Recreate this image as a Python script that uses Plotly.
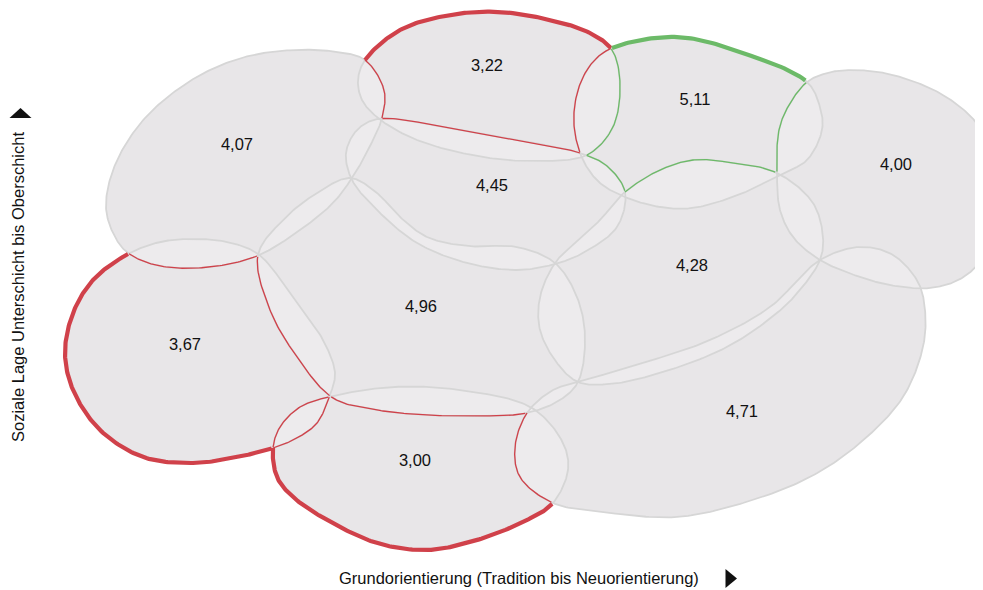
"""Milieu map: mean scores per social milieu, drawn as overlapping blobs."""

import numpy as np
import plotly.graph_objects as go

# mean score per milieu
VALUES = ["4,07", "3,22", "5,11", "4,00", "4,45", "4,96", "4,28", "3,67", "4,71", "3,00"]
LABEL_X = [237, 487, 695, 896, 492, 421, 692, 185, 742, 415]
LABEL_Y = [146, 67, 101, 166, 187, 308, 267, 346, 413, 462]
# 'low' = red, 'high' = green, None = plain
HIGHLIGHT = [None, "low", "high", None, None, None, None, "low", None, "low"]

# milieu outlines (chart units: x = Grundorientierung, y = Soziale Lage, downwards)
OUTLINE_4_07 = [(365, 60), (337, 52), (295, 50), (245, 57), (195, 78), (145, 118), (115, 165),
                (106, 207), (114, 235), (128, 253), (160, 266), (210, 267), (257, 256), (300, 230),
                (333, 203), (352, 178), (368, 150), (382, 118), (384, 90)]
OUTLINE_3_22 = [(365, 60), (400, 30), (450, 15), (500, 12), (550, 20), (590, 33), (612, 50),
                (620, 83), (613, 127), (587, 155), (537, 161), (483, 157), (417, 140), (378, 118),
                (362, 100), (358, 80)]
OUTLINE_5_11 = [(612, 48), (677, 37), (743, 53), (807, 82), (820, 107), (822, 130), (807, 160),
                (777, 176), (743, 193), (693, 208), (660, 207), (625, 197), (600, 183), (583, 160),
                (574, 125), (578, 90), (592, 63)]
OUTLINE_4_00 = [(807, 82), (827, 73), (853, 70), (893, 75), (943, 95), (978, 125), (995, 165),
                (997, 215), (985, 255), (962, 278), (930, 288), (890, 285), (860, 277), (820, 260),
                (793, 237), (780, 210), (777, 175), (779, 130), (789, 105)]
OUTLINE_4_45 = [(378, 119), (450, 128), (517, 140), (580, 153), (607, 166), (625, 192), (617, 227),
                (583, 253), (555, 264), (517, 270), (467, 263), (417, 243), (377, 210), (352, 180),
                (346, 153), (357, 130)]
OUTLINE_4_96 = [(258, 255), (283, 220), (317, 193), (350, 178), (377, 193), (400, 217), (427, 237),
                (467, 246), (517, 247), (555, 263), (577, 297), (585, 337), (578, 382), (560, 400),
                (527, 413), (477, 416), (427, 415), (377, 410), (333, 398), (297, 357), (270, 310)]
OUTLINE_4_28 = [(625, 192), (660, 170), (693, 160), (727, 162), (777, 173), (813, 203), (823, 237),
                (820, 260), (800, 290), (777, 313), (727, 347), (660, 373), (610, 384), (578, 382),
                (557, 363), (540, 330), (540, 297), (555, 263), (575, 243), (600, 220)]
OUTLINE_3_67 = [(128, 254), (160, 242), (193, 239), (227, 242), (258, 254), (293, 297), (323, 340),
                (335, 373), (330, 395), (317, 423), (297, 438), (273, 448), (237, 457), (193, 463),
                (143, 457), (100, 430), (73, 390), (65, 353), (73, 313), (93, 280)]
OUTLINE_4_71 = [(527, 413), (553, 390), (578, 382), (643, 363), (710, 340), (770, 307), (820, 260),
                (860, 247), (893, 255), (918, 282), (925, 310), (923, 347), (903, 397), (860, 443),
                (810, 477), (743, 503), (677, 517), (610, 513), (553, 503), (520, 477), (515, 447)]
OUTLINE_3_00 = [(273, 448), (280, 427), (300, 407), (333, 396), (393, 387), (460, 390), (532, 408),
                (563, 443), (568, 470), (553, 503), (527, 520), (477, 540), (427, 550), (377, 543),
                (327, 520), (293, 497), (277, 477)]

OUTLINES = [OUTLINE_4_07, OUTLINE_3_22, OUTLINE_5_11, OUTLINE_4_00, OUTLINE_4_45,
            OUTLINE_4_96, OUTLINE_4_28, OUTLINE_3_67, OUTLINE_4_71, OUTLINE_3_00]

X_TITLE = "Grundorientierung (Tradition bis Neuorientierung)"
Y_TITLE = "Soziale Lage Unterschicht bis Oberschicht"

# the page body has an 8px margin, so the figure starts at (8, 8)
PAGE_MARGIN = 8
W, H = 983, 590
BASE_FILL = "rgb(226,223,226)"
OVERLAP_FILL = "rgba(255,255,255,0.22)"
EDGE = "#d6d6d6"
HL_COLOR = {"low": "#d0414a", "high": "#6cba68"}
FONT = "Liberation Sans, Arial, sans-serif"
TEXT_SIZE = 16.5


def closed_curve(pts, n=24):
    """Centripetal Catmull-Rom through the control points, closed."""
    P = np.asarray(pts, float)
    m = len(P)
    u = np.linspace(0, 1, n, endpoint=False)[:, None]
    out = []
    for i in range(m):
        p0, p1, p2, p3 = P[(i - 1) % m], P[i], P[(i + 1) % m], P[(i + 2) % m]
        t0 = 0.0
        t1 = t0 + np.linalg.norm(p1 - p0) ** 0.5
        t2 = t1 + np.linalg.norm(p2 - p1) ** 0.5
        t3 = t2 + np.linalg.norm(p3 - p2) ** 0.5
        t = t1 + (t2 - t1) * u
        a1 = (t1 - t) / (t1 - t0) * p0 + (t - t0) / (t1 - t0) * p1
        a2 = (t2 - t) / (t2 - t1) * p1 + (t - t1) / (t2 - t1) * p2
        a3 = (t3 - t) / (t3 - t2) * p2 + (t - t2) / (t3 - t2) * p3
        b1 = (t2 - t) / (t2 - t0) * a1 + (t - t0) / (t2 - t0) * a2
        b2 = (t3 - t) / (t3 - t1) * a2 + (t - t1) / (t3 - t1) * a3
        out.append((t2 - t) / (t2 - t1) * b1 + (t - t1) / (t2 - t1) * b2)
    out = np.vstack(out)
    return np.vstack([out, out[:1]])


def inside(pts, poly):
    """Even-odd point-in-polygon test."""
    x, y = pts[:, 0][:, None], pts[:, 1][:, None]
    x1, y1 = poly[:-1, 0][None, :], poly[:-1, 1][None, :]
    x2, y2 = poly[1:, 0][None, :], poly[1:, 1][None, :]
    cond = (y1 > y) != (y2 > y)
    dy = np.where(y2 == y1, 1.0, y2 - y1)
    xint = x1 + (y - y1) * (x2 - x1) / dy
    return (cond & (x < xint)).sum(axis=1) % 2 == 1


def runs(curve, mask):
    """Split a closed curve into the runs where mask is True (None-separated)."""
    c, m = curve[:-1], mask[:-1]
    if m.all():
        return list(curve[:, 0]), list(curve[:, 1])
    if not m.any():
        return [], []
    start = int(np.argmin(m))
    c, m = np.roll(c, -start, axis=0), np.roll(m, -start)
    xs, ys = [], []
    prev = False
    for (px, py), keep in zip(c, m):
        if keep:
            xs.append(px)
            ys.append(py)
        elif prev:
            xs.append(None)
            ys.append(None)
        prev = keep
    return xs, ys


curves = [closed_curve(o) for o in OUTLINES]

fig = go.Figure()

# opaque base, then a faint white veil per milieu so that overlaps look lighter
for c in curves:
    fig.add_trace(go.Scatter(x=c[:, 0], y=c[:, 1], mode="lines", fill="toself",
                             fillcolor=BASE_FILL, line=dict(width=0), hoverinfo="skip"))
for c in curves:
    fig.add_trace(go.Scatter(x=c[:, 0], y=c[:, 1], mode="lines", fill="toself",
                             fillcolor=OVERLAP_FILL, line=dict(width=0), hoverinfo="skip"))
for c in curves:
    fig.add_trace(go.Scatter(x=c[:, 0], y=c[:, 1], mode="lines",
                             line=dict(color=EDGE, width=1.8), hoverinfo="skip"))

# highlighted milieus: outline of the part not covered by any other milieu
for h, kind in enumerate(HIGHLIGHT):
    if kind is None:
        continue
    color = HL_COLOR[kind]
    thin_x, thin_y = [], []
    for k, ck in enumerate(curves):
        if k == h:
            continue
        mask = inside(ck, curves[h])
        for j, cj in enumerate(curves):
            if j not in (h, k):
                mask &= ~inside(ck, cj)
        xs, ys = runs(ck, mask)
        thin_x += xs + [None]
        thin_y += ys + [None]
    fig.add_trace(go.Scatter(x=thin_x, y=thin_y, mode="lines",
                             line=dict(color=color, width=1.3), hoverinfo="skip"))

    mask = np.ones(len(curves[h]), bool)
    for j, cj in enumerate(curves):
        if j != h:
            mask &= ~inside(curves[h], cj)
    xs, ys = runs(curves[h], mask)
    fig.add_trace(go.Scatter(x=xs, y=ys, mode="lines",
                             line=dict(color=color, width=4.2), hoverinfo="skip"))

fig.add_trace(go.Scatter(
    x=LABEL_X, y=LABEL_Y, mode="text", text=VALUES,
    textfont=dict(family=FONT, size=TEXT_SIZE, color="#111111"), hoverinfo="skip",
))

fig.update_layout(
    width=W - PAGE_MARGIN, height=H - PAGE_MARGIN,
    margin=dict(l=0, r=0, t=0, b=0),
    paper_bgcolor="white", plot_bgcolor="white",
    showlegend=False,
    xaxis=dict(range=[PAGE_MARGIN, W], visible=False, fixedrange=True),
    yaxis=dict(range=[H, PAGE_MARGIN], visible=False, fixedrange=True),
    annotations=[
        dict(text=X_TITLE, x=519, y=578, xref="x", yref="y", showarrow=False,
             font=dict(family=FONT, size=TEXT_SIZE, color="#111111")),
        dict(text=Y_TITLE, x=18, y=287, xref="x", yref="y", showarrow=False, textangle=-90,
             font=dict(family=FONT, size=TEXT_SIZE, color="#111111")),
    ],
    # axis direction arrows
    shapes=[
        dict(type="path", path="M 9.5 118 L 31.5 118 L 20.5 108 Z", xref="x", yref="y",
             fillcolor="#111111", line=dict(width=0)),
        dict(type="path", path="M 725.5 569 L 725.5 588 L 737 578.5 Z", xref="x", yref="y",
             fillcolor="#111111", line=dict(width=0)),
    ],
)

fig.write_html("out.html")
